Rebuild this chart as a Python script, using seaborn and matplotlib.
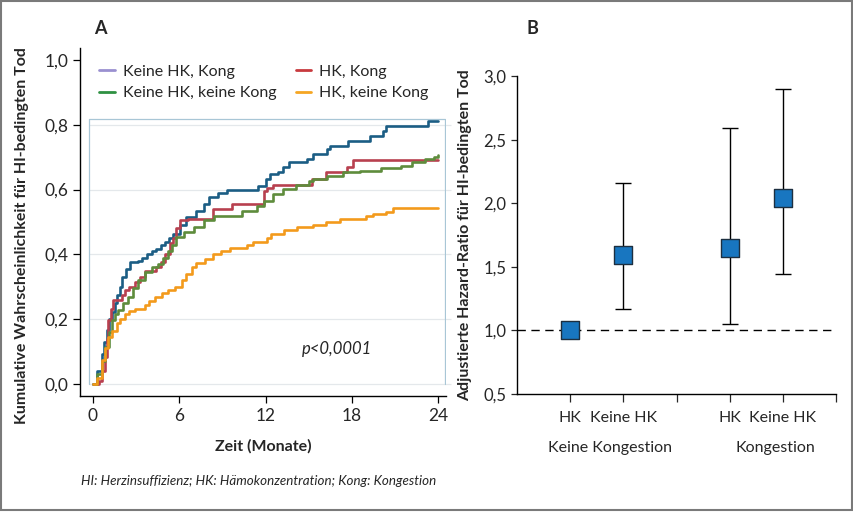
import numpy as np
import pandas as pd
import matplotlib
matplotlib.use('Agg')
import matplotlib.pyplot as plt
from matplotlib.lines import Line2D
import seaborn as sns

# ---------------- Daten Panel A (Kaplan-Meier) ----------------
blue_t = [0, 0.3, 0.6, 0.8, 0.95, 1.15, 1.3, 1.5, 1.65, 1.85, 2.0, 2.3, 2.57, 3.1, 3.4,
          3.73, 4.1, 4.4, 4.7, 5.0, 5.3, 5.6, 6.05, 6.5, 7.2, 7.7, 8.1, 8.7, 9.3, 11.5,
          12.0, 12.3, 12.9, 13.2, 13.6, 14.9, 15.3, 16.25, 16.5, 17.75, 19.3, 20.2, 20.4, 23.3, 24]
blue_v = [0, 0.04, 0.094, 0.13, 0.166, 0.2, 0.222, 0.25, 0.274, 0.3, 0.33, 0.355, 0.376, 0.38, 0.39,
          0.40, 0.41, 0.417, 0.43, 0.438, 0.45, 0.463, 0.49, 0.515, 0.535, 0.556, 0.576, 0.59, 0.60, 0.61,
          0.633, 0.648, 0.655, 0.67, 0.684, 0.694, 0.71, 0.725, 0.735, 0.75, 0.766, 0.78, 0.797, 0.812, 0.812]

red_t = [0, 0.4, 0.6, 0.83, 0.95, 1.07, 1.25, 1.41, 2.0, 2.2, 2.5, 2.9, 3.3, 3.6, 4.4,
         4.7, 5.0, 5.35, 5.6, 5.8, 6.05, 6.6, 8.35, 9.7, 11.9, 12.1, 12.5, 15.2, 16.2, 17.7, 18.1, 24]
red_v = [0, 0.01, 0.04, 0.084, 0.14, 0.197, 0.23, 0.258, 0.274, 0.29, 0.30, 0.315, 0.33, 0.35, 0.36,
         0.376, 0.40, 0.434, 0.45, 0.48, 0.505, 0.51, 0.54, 0.556, 0.597, 0.605, 0.615, 0.634, 0.653, 0.67, 0.69, 0.69]

green_t = [0, 0.3, 0.6, 0.85, 1.1, 1.3, 1.5, 1.76, 2.1, 2.45, 2.8, 3.15, 3.6, 4.1, 4.54,
           4.9, 5.24, 5.5, 5.8, 6.3, 7.0, 7.7, 8.4, 9.3, 10.4, 11.4, 11.9, 12.5, 13.2, 14.1,
           15.0, 15.3, 16.25, 17.4, 18.6, 20.0, 21.4, 22.2, 23.1, 23.7, 24]
green_v = [0, 0.03, 0.07, 0.115, 0.16, 0.197, 0.215, 0.228, 0.25, 0.27, 0.295, 0.32, 0.346, 0.36, 0.371,
           0.39, 0.412, 0.43, 0.453, 0.469, 0.484, 0.505, 0.517, 0.52, 0.535, 0.55, 0.566, 0.587, 0.602, 0.615,
           0.625, 0.633, 0.643, 0.653, 0.658, 0.667, 0.674, 0.684, 0.694, 0.70, 0.707]

orange_t = [0, 0.3, 0.6, 0.85, 1.07, 1.35, 1.65, 1.9, 2.2, 2.5, 2.9, 3.6, 3.9, 4.3, 4.8,
            5.24, 5.7, 6.17, 6.5, 6.86, 7.2, 7.8, 8.35, 8.9, 9.5, 10.7, 11.1, 12.07, 12.4, 13.3,
            14.2, 15.3, 16.2, 17.2, 19.0, 19.5, 20.4, 20.9, 24]
orange_v = [0, 0.02, 0.074, 0.11, 0.146, 0.165, 0.187, 0.2, 0.217, 0.225, 0.233, 0.243, 0.255, 0.269, 0.28,
            0.289, 0.30, 0.32, 0.34, 0.36, 0.372, 0.385, 0.40, 0.41, 0.42, 0.43, 0.438, 0.45, 0.464, 0.474,
            0.484, 0.492, 0.50, 0.51, 0.517, 0.525, 0.53, 0.544, 0.544]

legend_labels = ['Keine HK, Kong', 'Keine HK, keine Kong', 'HK, Kong', 'HK, keine Kong']
a_yticks = [0.0, 0.2, 0.4, 0.6, 0.8, 1.0]
a_yticklabels = ['0,0', '0,2', '0,4', '0,6', '0,8', '1,0']
a_xticks = [0, 6, 12, 18, 24]

# ---------------- Daten Panel B (Hazard Ratios) ----------------
hr_pos = [1, 2, 4, 5]
hr_val = [1.0, 1.59, 1.65, 2.04]
ci_low = [1.0, 1.17, 1.05, 1.44]
ci_high = [1.0, 2.16, 2.59, 2.90]
b_xticks = [1, 2, 3, 4, 5, 6]
b_xticklabels = ['HK', 'Keine HK', '', 'HK', 'Keine HK', '']
b_yticks = [0.5, 1.0, 1.5, 2.0, 2.5, 3.0]
b_yticklabels = ['0,5', '1,0', '1,5', '2,0', '2,5', '3,0']

sns.set_style('ticks')
plt.rcParams['font.family'] = ['Lato', 'DejaVu Sans']

fig = plt.figure(figsize=(8.54, 5.14), dpi=100)
axA = fig.add_axes([0.0937, 0.2296, 0.4285, 0.677])
axB = fig.add_axes([0.6054, 0.2335, 0.3736, 0.6185])

# ---------- Panel A ----------
curves = [(blue_t, blue_v, '#1b5d84'), (red_t, red_v, '#b8404f'),
          (green_t, green_v, '#5e8c3c'), (orange_t, orange_v, '#f39a1c')]
for t, v, c in curves:
    sns.lineplot(x=t, y=v, drawstyle='steps-post', color=c, lw=1.9, ax=axA,
                 estimator=None, sort=False)

# helle Gitterlinien und der hellblaue Rahmen
axA.hlines(a_yticks[:-1], -0.3, 24.9, color='#e4e8eb', lw=0.9, zorder=0, clip_on=False)
axA.plot([-0.3, -0.3, 24.5, 24.5], [0.0, 0.818, 0.818, 0.0], color='#a8c6d6', lw=0.9, zorder=0.5)
axA.set_xlim(-0.9, 24.55)
axA.set_ylim(-0.037, 1.037)
axA.set_xticks(a_xticks)
axA.set_xticklabels([str(x) for x in a_xticks], fontsize=12.5)
axA.set_yticks(a_yticks)
axA.set_yticklabels(a_yticklabels, fontsize=12.5)
axA.tick_params(length=5, width=0.9, color='black')
for s in ['top', 'right']:
    axA.spines[s].set_visible(False)
for s in ['left', 'bottom']:
    axA.spines[s].set_color('black')
    axA.spines[s].set_linewidth(1.0)
axA.set_xlabel('Zeit (Monate)', fontsize=11.5, fontweight='bold', labelpad=11)
axA.set_ylabel('Kumulative Wahrscheinlichkeit für HI-bedingten Tod', fontsize=11.5,
               fontweight='bold')
axA.yaxis.set_label_coords(-0.139, 0.46)
axA.text(17.0, 0.108, 'p<0,0001', style='italic', fontsize=12, ha='center', va='center')

handles = [Line2D([], [], color='#9a90d0', lw=2), Line2D([], [], color='#2f9142', lw=2),
           Line2D([], [], color='#c83a3e', lw=2), Line2D([], [], color='#f5a623', lw=2)]
axA.legend(handles, legend_labels, ncol=2, loc='upper left', bbox_to_anchor=(0.025, 0.98),
           frameon=False, fontsize=11.5, handlelength=1.0, handletextpad=0.5,
           columnspacing=1.2, labelspacing=0.45, borderaxespad=0.2)

# ---------- Panel B ----------
axB.axhline(1.0, color='black', lw=1.0, ls=(0, (6, 4)), zorder=1)
axB.errorbar(hr_pos, hr_val, yerr=[np.array(hr_val) - np.array(ci_low),
                                   np.array(ci_high) - np.array(hr_val)],
             fmt='none', ecolor='black', elinewidth=1.0, capsize=6, capthick=1.0, zorder=2)
dfB = pd.DataFrame({'pos': hr_pos, 'hr': hr_val})
sns.scatterplot(data=dfB, x='pos', y='hr', marker='s', s=185, color='#1876c0',
                edgecolor='#1d2f40', linewidth=1.0, zorder=3, ax=axB)
axB.set_xlim(0, 6)
axB.set_ylim(0.5, 3.0)
axB.set_xticks(b_xticks)
axB.set_xticklabels(b_xticklabels, fontsize=11.5)
axB.set_yticks(b_yticks)
axB.set_yticklabels(b_yticklabels, fontsize=12)
axB.tick_params(axis='x', length=6, width=0.9, pad=6)
axB.tick_params(axis='y', length=4, width=0.9)
for s in ['top', 'right']:
    axB.spines[s].set_visible(False)
for s in ['left', 'bottom']:
    axB.spines[s].set_color('black')
    axB.spines[s].set_linewidth(1.0)
axB.set_xlabel('')
axB.set_ylabel('Adjustierte Hazard-Ratio für HI-bedingten Tod', fontsize=11.5,
               fontweight='bold', labelpad=8)
axB.text(1.74, -0.17, 'Keine Kongestion', transform=axB.get_xaxis_transform(),
         fontsize=11.5, ha='center', va='center')
axB.text(4.86, -0.17, 'Kongestion', transform=axB.get_xaxis_transform(),
         fontsize=11.5, ha='center', va='center')

# ---------- Beschriftungen ----------
fig.text(100 / 854, 1 - 28 / 514, 'A', fontsize=13, fontweight='bold', ha='center', va='center')
fig.text(532 / 854, 1 - 28 / 514, 'B', fontsize=13, fontweight='bold', ha='center', va='center')
fig.text(81 / 854, 1 - 481 / 514, 'HI: Herzinsuffizienz; HK: Hämokonzentration; Kong: Kongestion',
         fontsize=9.6, style='italic', ha='left', va='center')
fig.patches.append(plt.Rectangle((0.001, 0.008), 0.997, 0.99, transform=fig.transFigure,
                                 fill=False, edgecolor='#7a7a7a', lw=1.5))

fig.savefig('out.png', dpi=100)
